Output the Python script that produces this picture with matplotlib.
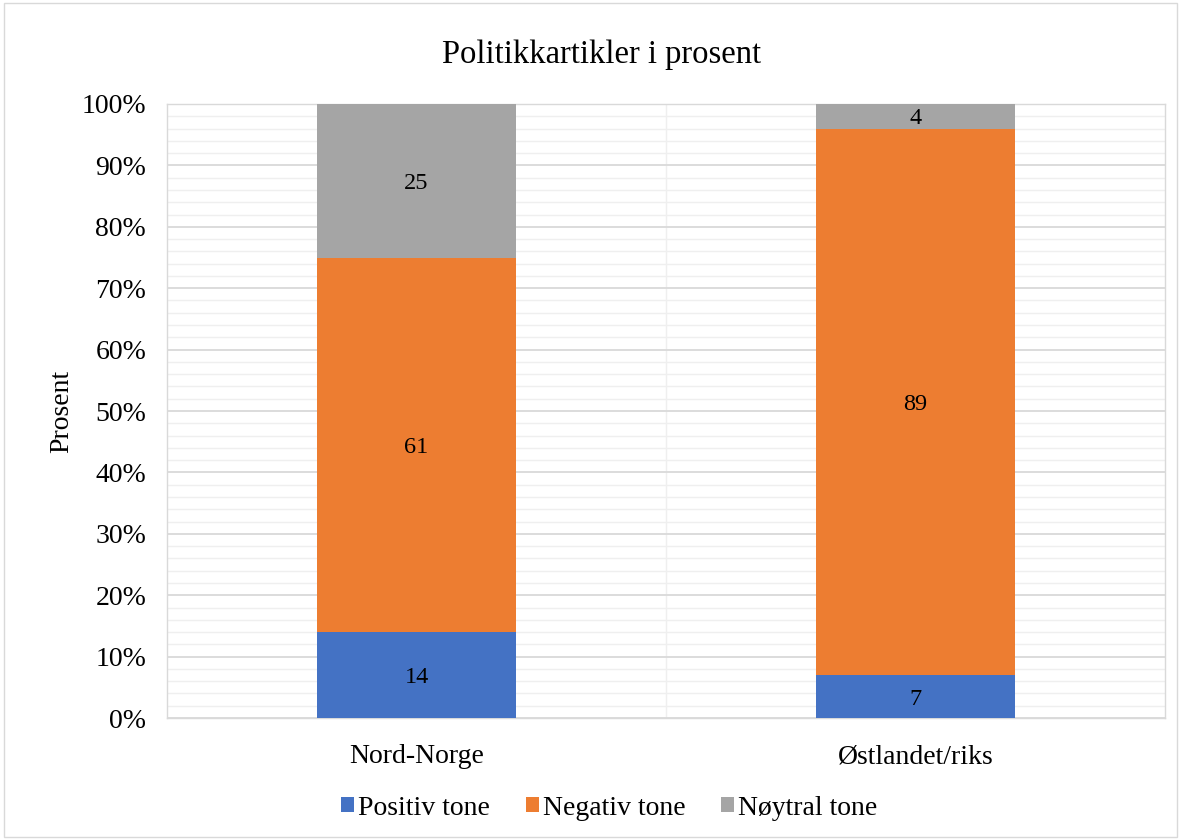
import matplotlib.pyplot as plt
from matplotlib.ticker import MultipleLocator, PercentFormatter
from matplotlib.patches import Rectangle

plt.rcParams['font.family'] = ['Liberation Serif', 'DejaVu Serif']

categories = ['Nord-Norge', 'Østlandet/riks']
series = ['Positiv tone', 'Negativ tone', 'Nøytral tone']
positiv = [14, 7]
negativ = [61, 89]
noytral = [25, 4]
colors = ['#4472C4', '#ED7D31', '#A5A5A5']

fig = plt.figure(figsize=(11.81, 8.4), dpi=100)
ax = fig.add_axes([0.1414, 0.1452, 0.8451, 0.731])

x = range(len(categories))
bottom = [0, 0]
for name, vals, c in zip(series, [positiv, negativ, noytral], colors):
    bars = ax.bar(x, vals, width=0.4, bottom=bottom, color=c, label=name, zorder=3)
    for b, v in zip(bars, vals):
        ax.text(b.get_x() + b.get_width() / 2, b.get_y() + v / 2, str(v),
                ha='center', va='center_baseline', fontsize=17.5, color='black', zorder=4)
    bottom = [b0 + v for b0, v in zip(bottom, vals)]

ax.set_xlim(-0.5, 1.5)
ax.set_ylim(0, 100)
ax.yaxis.set_major_locator(MultipleLocator(10))
ax.yaxis.set_minor_locator(MultipleLocator(2))
ax.yaxis.set_major_formatter(PercentFormatter(decimals=0))
ax.grid(axis='y', which='major', color='#D9D9D9', linewidth=1.3, zorder=0)
ax.grid(axis='y', which='minor', color='#EFEFEF', linewidth=1.0, zorder=0)
ax.axvline(0.5, color='#EFEFEF', linewidth=1.0, zorder=0)
ax.set_xticks(list(x))
ax.set_xticklabels(categories, fontsize=20)
ax.tick_params(axis='y', which='both', length=0, labelsize=20, pad=15)
ax.tick_params(axis='x', length=0, pad=19)
for s in ax.spines.values():
    s.set_color('#D9D9D9')
    s.set_linewidth(1.0)

ax.set_ylabel('Prosent', fontsize=20, labelpad=5)
fig.text(0.509, 0.935, 'Politikkartikler i prosent', fontsize=23.5,
         ha='center', va='center')

fig.legend(loc='center', bbox_to_anchor=(0.516, 0.038), ncol=3, frameon=False,
           fontsize=20, handlelength=0.45, handleheight=0.45, handletextpad=0.15,
           columnspacing=1.3)

fig.patches.append(Rectangle((0.003, 0.003), 0.994, 0.994, transform=fig.transFigure,
                             fill=False, edgecolor='#D9D9D9', linewidth=1.0))

fig.savefig('out.png', dpi=100)
